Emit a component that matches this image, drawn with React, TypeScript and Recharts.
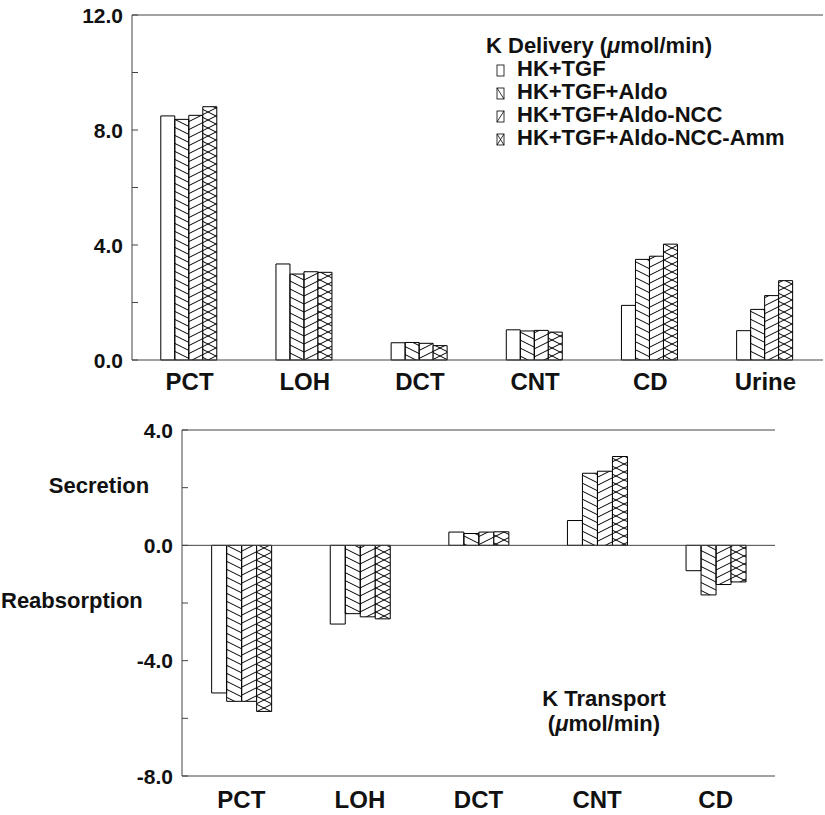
import React from "react";
import { BarChart, Bar, XAxis, YAxis, ReferenceLine } from "recharts";

// K delivery along the nephron (umol/min)
const deliveryCategories = ["PCT", "LOH", "DCT", "CNT", "CD", "Urine"];
const deliveryHkTgf = [8.49, 3.34, 0.6, 1.05, 1.9, 1.02];
const deliveryAldo = [8.37, 2.99, 0.61, 1.01, 3.5, 1.76];
const deliveryAldoNcc = [8.51, 3.07, 0.58, 1.03, 3.61, 2.24];
const deliveryAldoNccAmm = [8.81, 3.05, 0.5, 0.97, 4.03, 2.76];
const deliveryTicks = [0, 2, 4, 6, 8, 10, 12];

// K transport per segment (umol/min), positive = secretion
const transportCategories = ["PCT", "LOH", "DCT", "CNT", "CD"];
const transportHkTgf = [-5.12, -2.73, 0.46, 0.86, -0.88];
const transportAldo = [-5.41, -2.37, 0.41, 2.5, -1.72];
const transportAldoNcc = [-5.41, -2.48, 0.46, 2.57, -1.36];
const transportAldoNccAmm = [-5.76, -2.55, 0.47, 3.08, -1.27];
const transportTicks = [-8, -6, -4, -2, 0, 2, 4];

const seriesNames = ["HK+TGF", "HK+TGF+Aldo", "HK+TGF+Aldo-NCC", "HK+TGF+Aldo-NCC-Amm"];
const seriesFills = ["#fff", "url(#hatchBack)", "url(#hatchFwd)", "url(#hatchCross)"];

const deliveryData = deliveryCategories.map((name, i) => ({
  name,
  s1: deliveryHkTgf[i],
  s2: deliveryAldo[i],
  s3: deliveryAldoNcc[i],
  s4: deliveryAldoNccAmm[i],
}));

const transportData = transportCategories.map((name, i) => ({
  name,
  s1: transportHkTgf[i],
  s2: transportAldo[i],
  s3: transportAldoNcc[i],
  s4: transportAldoNccAmm[i],
}));

const AXIS = "#444";
const FONT = "'Liberation Sans', Arial, Helvetica, sans-serif";
const NARROW = "'Liberation Sans Narrow', 'Liberation Sans', Arial, sans-serif";

function LeftTick(props: any) {
  const { y, payload, axisX } = props;
  const v = payload.value as number;
  return (
    <g>
      <line x1={axisX} x2={axisX + 6} y1={y} y2={y} stroke={AXIS} />
      {v % 4 === 0 && (
        <text
          x={axisX - 9}
          y={y}
          dy="0.36em"
          textAnchor="end"
          fontFamily={FONT}
          fontWeight="bold"
          fontSize={21}
          fill="#111"
        >
          {v.toFixed(1)}
        </text>
      )}
    </g>
  );
}

function RightTick(props: any) {
  const { y, axisX } = props;
  return <line x1={axisX - 6} x2={axisX} y1={y} y2={y} stroke={AXIS} />;
}

function CatTick(props: any) {
  const { x, y, payload, dy } = props;
  return (
    <text x={x} y={y + dy} textAnchor="middle" fontFamily={NARROW} fontWeight="bold" fontSize={24} fill="#111">
      {payload.value}
    </text>
  );
}

function Bars() {
  return seriesNames.map((n, i) => (
    <Bar
      key={n}
      dataKey={`s${i + 1}`}
      name={n}
      fill={seriesFills[i]}
      stroke="#000"
      strokeWidth={1}
      isAnimationActive={false}
    />
  ));
}

function Patterns() {
  return (
    <svg width={0} height={0} style={{ position: "absolute" }}>
      <defs>
        <pattern id="hatchBack" patternUnits="userSpaceOnUse" width={16} height={8}>
          <path d="M0,0 L16,8 M0,-8 L16,0 M0,8 L16,16" stroke="#000" strokeWidth={1} />
        </pattern>
        <pattern id="hatchFwd" patternUnits="userSpaceOnUse" width={16} height={8}>
          <path d="M0,8 L16,0 M0,0 L16,-8 M0,16 L16,8" stroke="#000" strokeWidth={1} />
        </pattern>
        <pattern id="hatchCross" patternUnits="userSpaceOnUse" width={16} height={8}>
          <rect width={16} height={8} fill="#fff" />
          <path
            d="M0,0 L16,8 M0,-8 L16,0 M0,8 L16,16 M0,8 L16,0 M0,0 L16,-8 M0,16 L16,8"
            stroke="#000"
            strokeWidth={1}
          />
        </pattern>
      </defs>
    </svg>
  );
}

function Annotations() {
  const t = { fontFamily: FONT, fontWeight: "bold" as const, fontSize: 22, fill: "#111" };
  const swatchY = [65, 88, 111, 134];
  return (
    <svg width={825} height={815} style={{ position: "absolute", left: 0, top: 0, pointerEvents: "none" }}>
      <text x={486} y={53} {...t}>
        K Delivery (<tspan fontStyle="italic">μ</tspan>mol/min)
      </text>
      {seriesNames.map((n, i) => (
        <g key={n}>
          <rect x={497} y={swatchY[i]} width={7} height={11} fill="#fff" stroke="#000" strokeWidth={0.8} />
          {(i === 1 || i === 3) && (
            <line x1={497} y1={swatchY[i]} x2={504} y2={swatchY[i] + 11} stroke="#000" strokeWidth={0.8} />
          )}
          {(i === 2 || i === 3) && (
            <line x1={497} y1={swatchY[i] + 11} x2={504} y2={swatchY[i]} stroke="#000" strokeWidth={0.8} />
          )}
          <text x={517} y={swatchY[i] + 11} {...t}>
            {n}
          </text>
        </g>
      ))}
      <text x={99} y={493} textAnchor="middle" {...t}>
        Secretion
      </text>
      <text x={1} y={608} {...t}>
        Reabsorption
      </text>
      <text x={604} y={706} textAnchor="middle" {...t}>
        K Transport
      </text>
      <text x={604} y={731} textAnchor="middle" {...t}>
        (<tspan fontStyle="italic">μ</tspan>mol/min)
      </text>
    </svg>
  );
}

export default function App() {
  return (
    <div style={{ position: "absolute", left: 0, top: 0, width: 825, height: 815, background: "#fff" }}>
      <Patterns />
      <div style={{ position: "absolute", left: 0, top: 0 }}>
        <BarChart
          width={825}
          height={400}
          data={deliveryData}
          margin={{ top: 15, right: 2, left: 0, bottom: 0 }}
          barCategoryGap="25%"
          barGap={0}
        >
          <XAxis
            dataKey="name"
            height={40}
            tickSize={0}
            tickMargin={0}
            tickLine={false}
            axisLine={{ stroke: AXIS }}
            tick={<CatTick dy={30} />}
            interval={0}
          />
          <YAxis
            width={132}
            domain={[0, 12]}
            ticks={deliveryTicks}
            tickSize={0}
            tickLine={false}
            axisLine={{ stroke: AXIS }}
            tick={<LeftTick axisX={132} />}
            interval={0}
          />
          <YAxis
            yAxisId="r"
            orientation="right"
            width={0}
            domain={[0, 12]}
            ticks={deliveryTicks}
            tickSize={0}
            tickLine={false}
            axisLine={{ stroke: AXIS }}
            tick={<RightTick axisX={823} />}
            interval={0}
          />
          <ReferenceLine y={12} stroke={AXIS} />
          {Bars()}
        </BarChart>
      </div>
      <div style={{ position: "absolute", left: 0, top: 400 }}>
        <BarChart
          width={825}
          height={415}
          data={transportData}
          margin={{ top: 30, right: 50, left: 0, bottom: 0 }}
          barCategoryGap="25%"
          barGap={0}
        >
          <XAxis
            dataKey="name"
            height={39}
            tickSize={0}
            tickMargin={0}
            tickLine={false}
            axisLine={{ stroke: AXIS }}
            tick={<CatTick dy={32} />}
            interval={0}
          />
          <YAxis
            width={182}
            domain={[-8, 4]}
            ticks={transportTicks}
            tickSize={0}
            tickLine={false}
            axisLine={{ stroke: AXIS }}
            tick={<LeftTick axisX={182} />}
            interval={0}
          />
          <YAxis
            yAxisId="r"
            orientation="right"
            width={0}
            domain={[-8, 4]}
            ticks={transportTicks}
            tickSize={0}
            tickLine={false}
            axisLine={{ stroke: AXIS }}
            tick={<RightTick axisX={775} />}
            interval={0}
          />
          <ReferenceLine y={4} stroke={AXIS} />
          <ReferenceLine y={0} stroke={AXIS} />
          {Bars()}
        </BarChart>
      </div>
      <Annotations />
    </div>
  );
}
